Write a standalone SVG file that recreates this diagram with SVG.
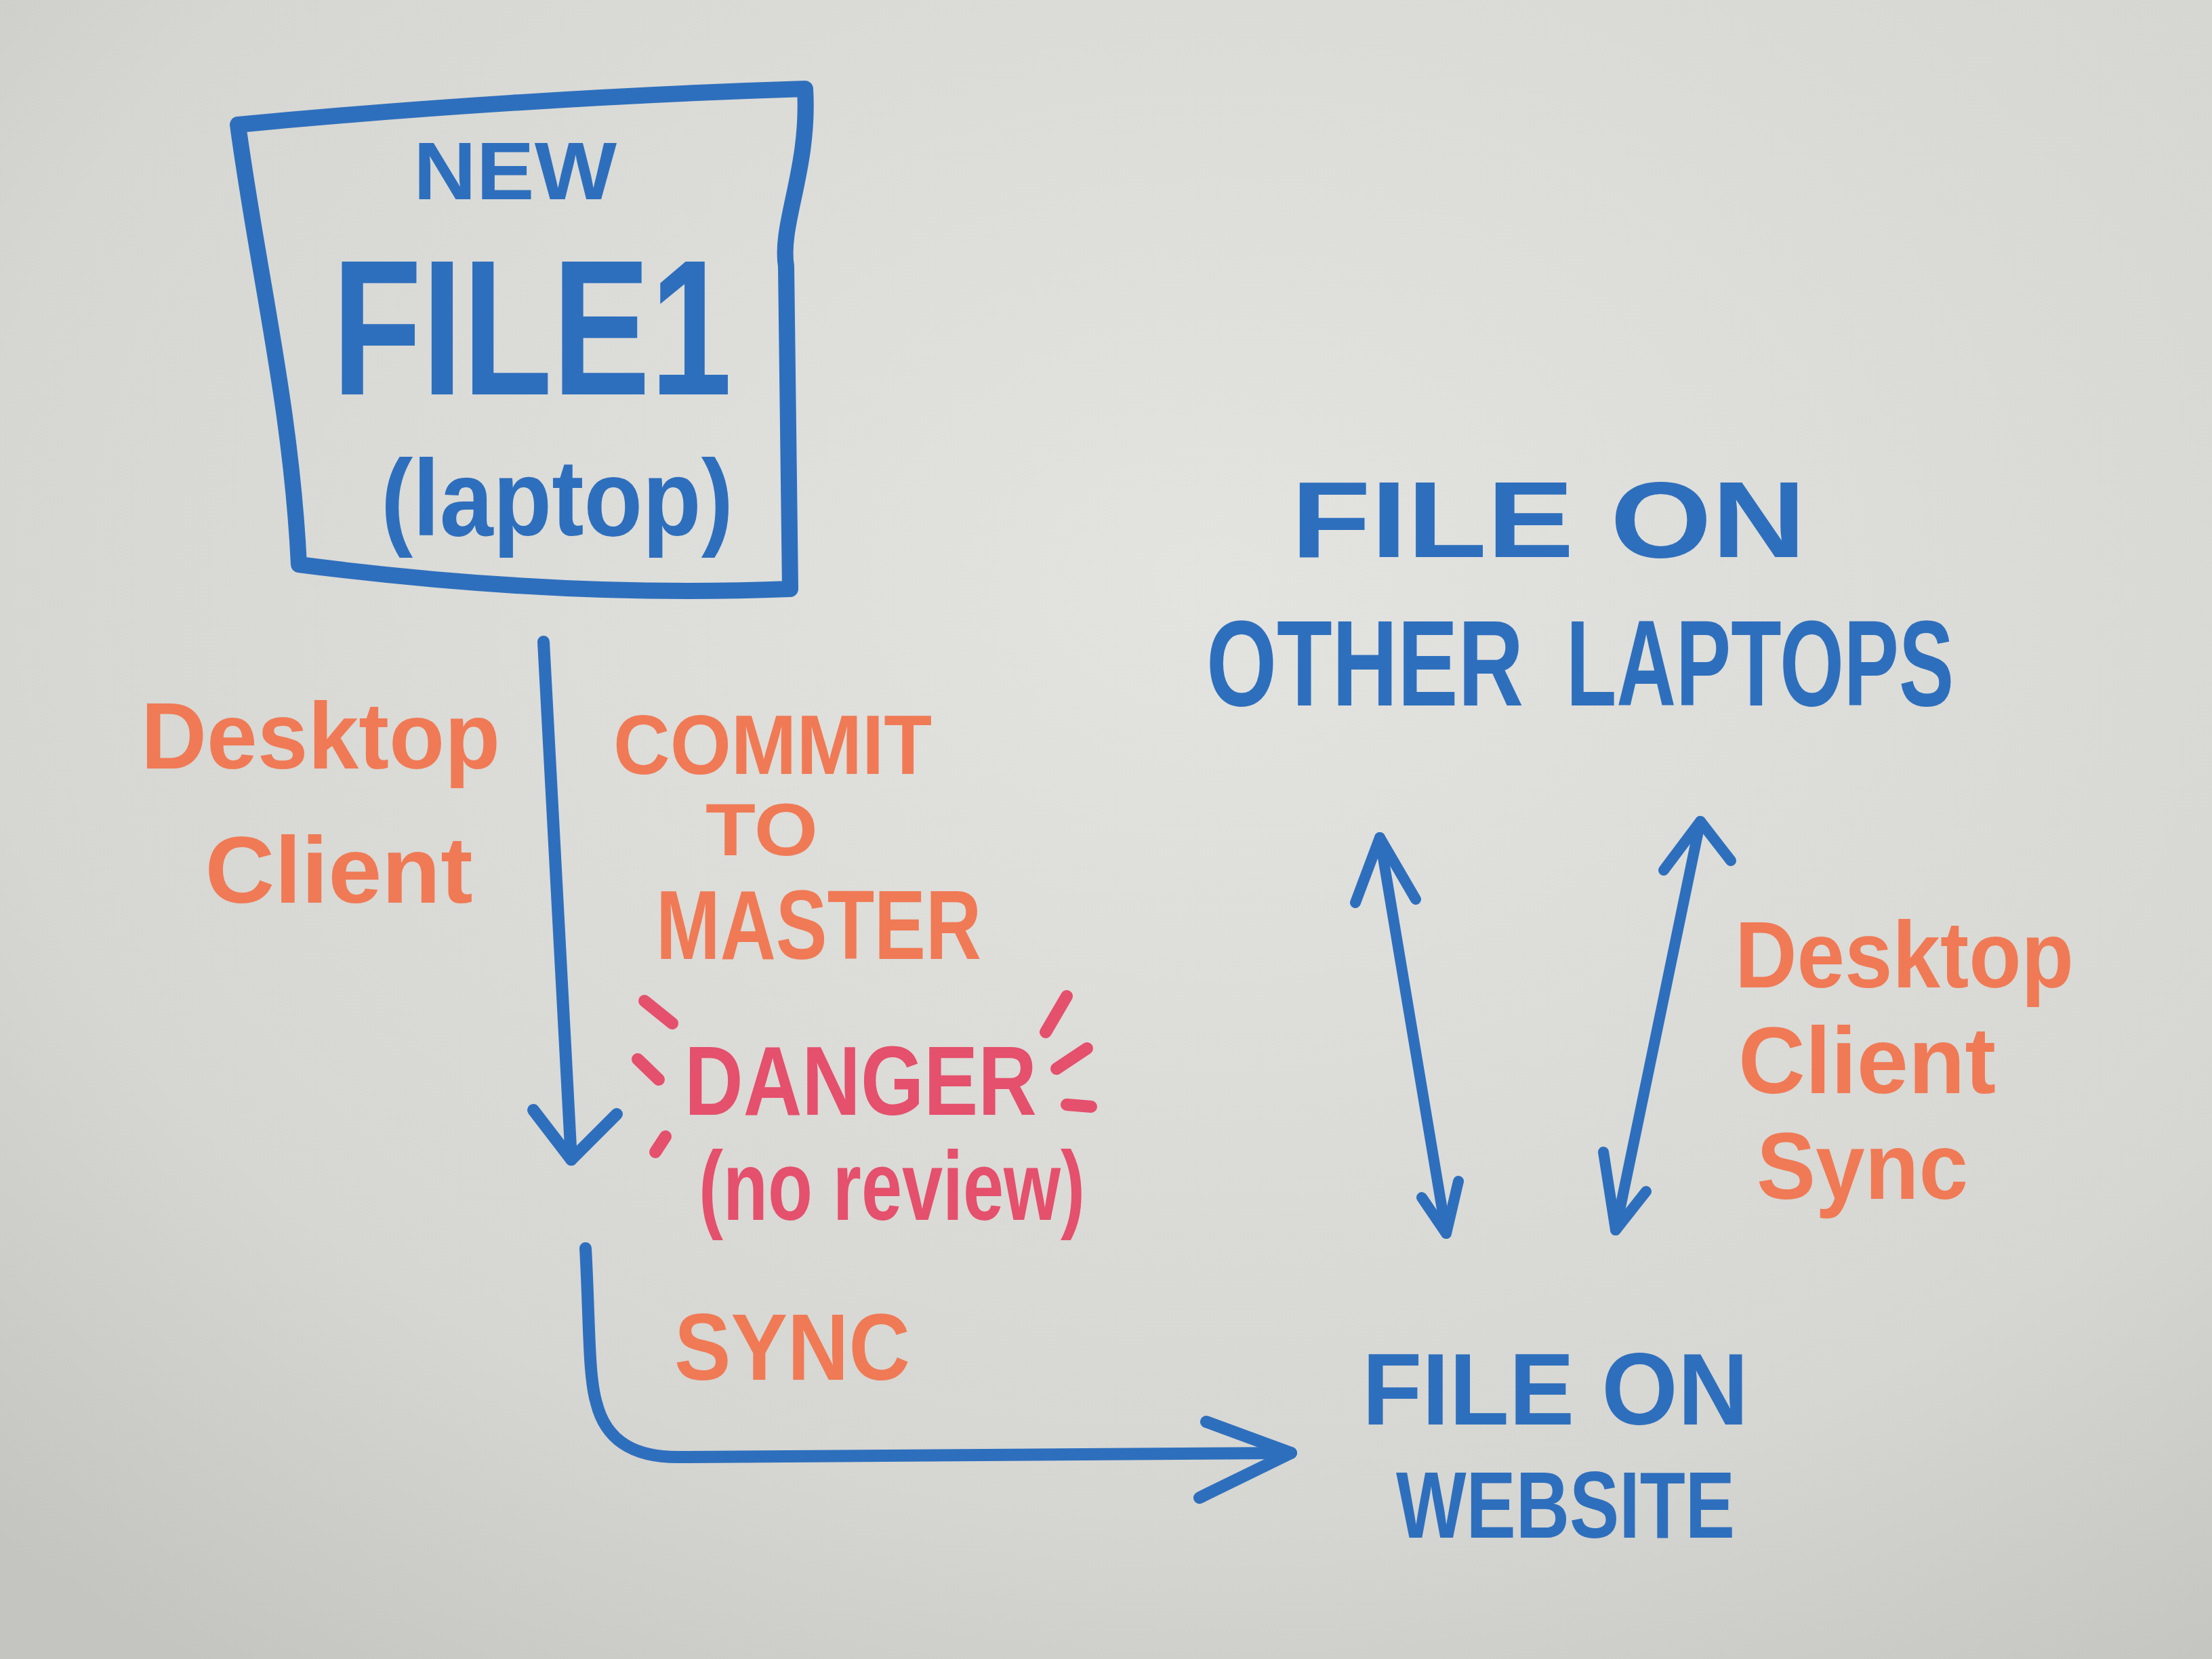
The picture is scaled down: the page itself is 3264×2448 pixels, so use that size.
<svg xmlns="http://www.w3.org/2000/svg" width="3264" height="2448" viewBox="0 0 3264 2448">
<defs>
<radialGradient id="bg" cx="0.55" cy="0.35" r="0.8">
<stop offset="0" stop-color="#e3e3e0"/>
<stop offset="0.7" stop-color="#d6d6d2"/>
<stop offset="1" stop-color="#c4c4c0"/>
</radialGradient>
<style>
.blue{fill:#2e6fbd;font-family:"Liberation Sans",Arial,sans-serif;font-weight:bold}
.org{fill:#f07a55;font-family:"Liberation Sans",Arial,sans-serif;font-weight:bold}
.pink{fill:#e5506c;font-family:"Liberation Sans",Arial,sans-serif;font-weight:bold}
.ink{fill:none;stroke:#2e6fbd;stroke-linecap:round;stroke-linejoin:round}
.dash{fill:none;stroke:#e5506c;stroke-width:18;stroke-linecap:round}
</style>
</defs>
<rect width="3264" height="2448" fill="url(#bg)"/>

<g id="new-file-1">
<path class="ink" stroke-width="24" d="M351,184 C600,160 900,140 1188,131 C1195,250 1150,330 1160,393 L1166,869 C900,880 650,860 441,833 C430,600 380,400 351,184 Z"/>
<text class="blue" x="760" y="294" font-size="120" text-anchor="middle" textLength="300" lengthAdjust="spacingAndGlyphs">NEW</text>
<text class="blue" x="785" y="582" font-size="285" text-anchor="middle" textLength="590" lengthAdjust="spacingAndGlyphs">FILE1</text>
<text class="blue" x="822" y="790" font-size="160" text-anchor="middle" textLength="520" lengthAdjust="spacingAndGlyphs">(laptop)</text>
</g>

<g id="file-on-other-laptops">
<text class="blue" x="2285" y="822" font-size="160" text-anchor="middle" textLength="760" lengthAdjust="spacingAndGlyphs">FILE ON</text>
<text class="blue" x="2014" y="1041" font-size="180" text-anchor="middle" textLength="468" lengthAdjust="spacingAndGlyphs">OTHER</text>
<text class="blue" x="2597" y="1041" font-size="180" text-anchor="middle" textLength="572" lengthAdjust="spacingAndGlyphs">LAPTOPS</text>
</g>

<g id="file-on-website">
<text class="blue" x="2295" y="2102" font-size="150" text-anchor="middle" textLength="570" lengthAdjust="spacingAndGlyphs">FILE ON</text>
<text class="blue" x="2310" y="2269" font-size="140" text-anchor="middle" textLength="500" lengthAdjust="spacingAndGlyphs">WEBSITE</text>
</g>

<g id="labels">
<text class="org" x="473" y="1134" font-size="140" text-anchor="middle" textLength="530" lengthAdjust="spacingAndGlyphs">Desktop</text>
<text class="org" x="500" y="1332" font-size="140" text-anchor="middle" textLength="395" lengthAdjust="spacingAndGlyphs">Client</text>
<text class="org" x="1140" y="1142" font-size="125" text-anchor="middle" textLength="470" lengthAdjust="spacingAndGlyphs">COMMIT</text>
<text class="org" x="1124" y="1262" font-size="110" text-anchor="middle" textLength="166" lengthAdjust="spacingAndGlyphs">TO</text>
<text class="org" x="1208" y="1415" font-size="145" text-anchor="middle" textLength="480" lengthAdjust="spacingAndGlyphs">MASTER</text>
<text class="pink" x="1270" y="1645" font-size="145" text-anchor="middle" textLength="520" lengthAdjust="spacingAndGlyphs">DANGER</text>
<text class="pink" x="1316" y="1800" font-size="145" text-anchor="middle" textLength="570" lengthAdjust="spacingAndGlyphs">(no review)</text>
<line class="dash" x1="951" y1="1477" x2="992" y2="1510"/>
<line class="dash" x1="941" y1="1563" x2="972" y2="1593"/>
<line class="dash" x1="982" y1="1677" x2="967" y2="1700"/>
<line class="dash" x1="1574" y1="1470" x2="1543" y2="1523"/>
<line class="dash" x1="1604" y1="1547" x2="1559" y2="1577"/>
<line class="dash" x1="1574" y1="1630" x2="1610" y2="1633"/>
<text class="org" x="1169" y="2036" font-size="140" text-anchor="middle" textLength="348" lengthAdjust="spacingAndGlyphs">SYNC</text>
<text class="org" x="2810" y="1457" font-size="140" text-anchor="middle" textLength="500" lengthAdjust="spacingAndGlyphs">Desktop</text>
<text class="org" x="2755" y="1613" font-size="140" text-anchor="middle" textLength="380" lengthAdjust="spacingAndGlyphs">Client</text>
<text class="org" x="2748" y="1769" font-size="140" text-anchor="middle" textLength="312" lengthAdjust="spacingAndGlyphs">Sync</text>
</g>

<g id="connectors">
<path class="ink" stroke-width="18" d="M802,947 L843,1711"/>
<polyline class="ink" stroke-width="18" points="787,1638 843,1711 910,1644"/>
<path class="ink" stroke-width="18" d="M864,1842 C870,1950 868,2030 880,2070 C895,2130 940,2150 1000,2150 L1905,2144"/>
<polyline class="ink" stroke-width="18" points="1780,2098 1905,2144 1770,2210"/>
<path class="ink" stroke-width="16" d="M2036,1236 L2134,1820"/>
<polyline class="ink" stroke-width="16" points="2000,1332 2036,1236 2089,1327"/>
<polyline class="ink" stroke-width="16" points="2098,1767 2134,1820 2152,1743"/>
<path class="ink" stroke-width="16" d="M2509,1212 L2384,1815"/>
<polyline class="ink" stroke-width="16" points="2455,1284 2509,1212 2554,1270"/>
<polyline class="ink" stroke-width="16" points="2366,1700 2384,1815 2429,1758"/>
</g>
</svg>
